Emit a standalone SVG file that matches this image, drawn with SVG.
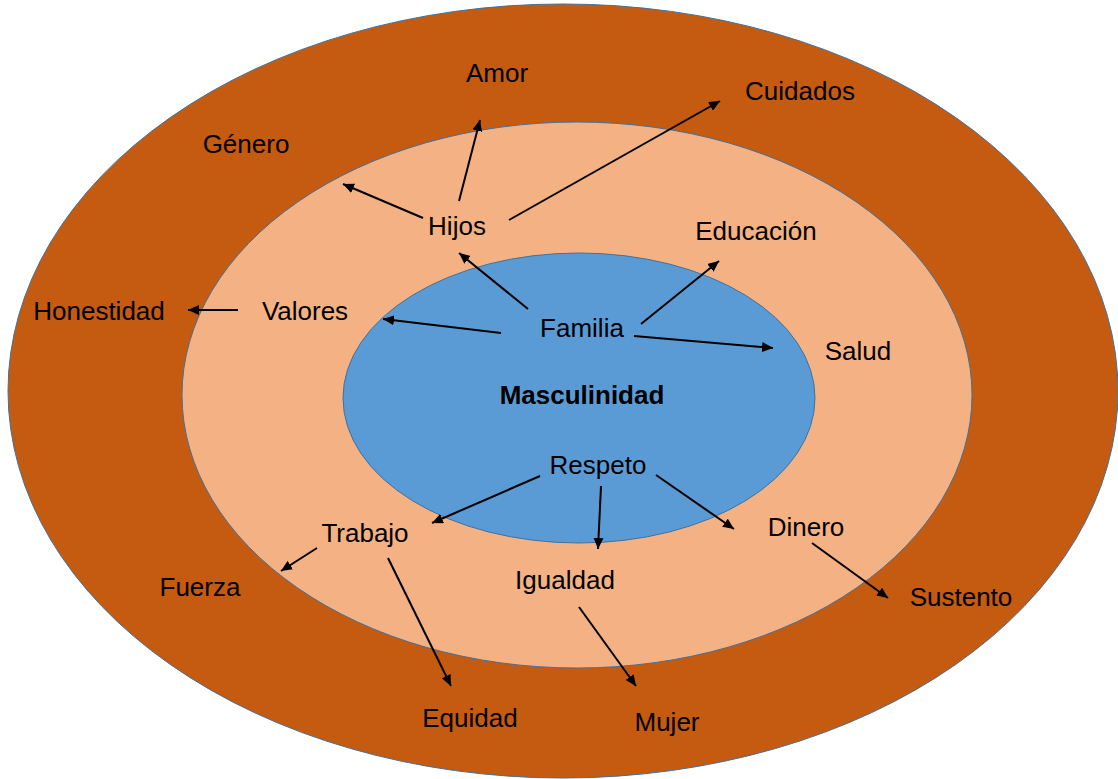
<svg xmlns="http://www.w3.org/2000/svg" width="1118" height="779" viewBox="0 0 1118 779">
<defs>
<style>
.t{font-family:"Liberation Sans",Arial,sans-serif;font-size:26px;fill:#000;text-anchor:middle}
.b{font-weight:bold}
.c{stroke:#000;stroke-width:2;fill:none;marker-end:url(#ah)}
.ring{stroke:#41719C;stroke-width:1}
</style>
<marker id="ah" markerUnits="userSpaceOnUse" markerWidth="12" markerHeight="10" refX="11" refY="5" orient="auto">
<path d="M0,0 L11,5 L0,10 Z" fill="#000"/>
</marker>
</defs>
<rect width="1118" height="779" fill="#fff"/>
<g id="rings">
<ellipse id="outer" class="ring" cx="563" cy="391" rx="555" ry="387" fill="#C55A11"/>
<ellipse id="middle" class="ring" cx="577" cy="395" rx="395" ry="273" fill="#F4B183"/>
<ellipse id="inner" class="ring" cx="579" cy="398" rx="236" ry="145" fill="#5B9BD5"/>
</g>
<g id="connectors">
<line class="c" x1="459" y1="201" x2="480" y2="120"/>
<line class="c" x1="423" y1="218" x2="343" y2="184"/>
<line class="c" x1="509" y1="220" x2="720" y2="101"/>
<line class="c" x1="528" y1="309" x2="459" y2="253"/>
<line class="c" x1="501" y1="333" x2="383" y2="319"/>
<line class="c" x1="238" y1="310" x2="188" y2="310"/>
<line class="c" x1="641" y1="324" x2="719" y2="261"/>
<line class="c" x1="634" y1="336" x2="773" y2="348"/>
<line class="c" x1="540" y1="476" x2="432" y2="523"/>
<line class="c" x1="317" y1="548" x2="281" y2="571"/>
<line class="c" x1="388" y1="558" x2="451" y2="686"/>
<line class="c" x1="601" y1="486" x2="598" y2="549"/>
<line class="c" x1="656" y1="475" x2="734" y2="529"/>
<line class="c" x1="812" y1="543" x2="888" y2="598"/>
<line class="c" x1="579" y1="607" x2="636" y2="686"/>
</g>
<g id="n-masculinidad"><text class="t b" x="582" y="404">Masculinidad</text></g>
<g id="n-familia"><text class="t" x="582" y="337">Familia</text></g>
<g id="n-respeto"><text class="t" x="598" y="474">Respeto</text></g>
<g id="n-hijos"><text class="t" x="457" y="235">Hijos</text></g>
<g id="n-valores"><text class="t" x="305" y="320">Valores</text></g>
<g id="n-educacion"><text class="t" x="756" y="240">Educación</text></g>
<g id="n-salud"><text class="t" x="858" y="360">Salud</text></g>
<g id="n-trabajo"><text class="t" x="365" y="542">Trabajo</text></g>
<g id="n-igualdad"><text class="t" x="565" y="589">Igualdad</text></g>
<g id="n-dinero"><text class="t" x="806" y="536">Dinero</text></g>
<g id="n-amor"><text class="t" x="497" y="82">Amor</text></g>
<g id="n-cuidados"><text class="t" x="800" y="100">Cuidados</text></g>
<g id="n-genero"><text class="t" x="246" y="153">Género</text></g>
<g id="n-honestidad"><text class="t" x="99" y="320">Honestidad</text></g>
<g id="n-fuerza"><text class="t" x="200" y="596">Fuerza</text></g>
<g id="n-equidad"><text class="t" x="470" y="727">Equidad</text></g>
<g id="n-mujer"><text class="t" x="667" y="731">Mujer</text></g>
<g id="n-sustento"><text class="t" x="961" y="606">Sustento</text></g>
</svg>
